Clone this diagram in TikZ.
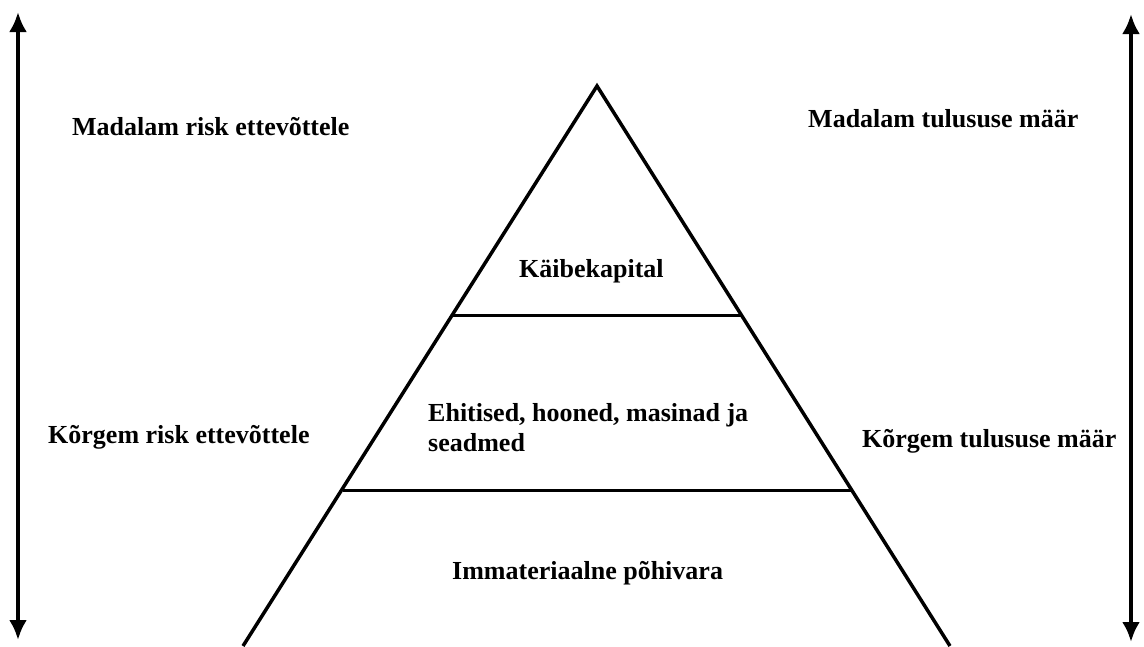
\documentclass[tikz,border=0pt]{standalone}
\usepackage{fontspec}
\setmainfont{Liberation Serif}
\usetikzlibrary{arrows.meta}
\begin{document}
\begin{tikzpicture}[x=1pt,y=-1pt,
    lbl/.style={font=\bfseries\fontsize{26}{30}\selectfont, anchor=base west, inner sep=0pt, align=left}]
\useasboundingbox (0,0) rectangle (1144,646);
% side arrows
\draw[<->, line width=4pt, >={Latex[length=20pt,width=18pt]}] (18,12)--(18,640);
\draw[<->, line width=4pt, >={Latex[length=20pt,width=18pt]}] (1131,14)--(1131,642);
% pyramid
\coordinate (top) at (597,86);
\coordinate (bl) at (243,646);\coordinate (br) at (950,646);
\draw[line width=3.5pt] (bl)--(top)--(br);
\draw[line width=3pt] (453,315)--(741,315);
\draw[line width=3pt] (343,490)--(851,490);
% labels
\node[lbl] (lowrisk) at (72,135) {Madalam risk ettevõttele};
\node[lbl] (lowret) at (808,127) {Madalam tulususe määr};
\node[lbl] (highrisk) at (48,443) {Kõrgem risk ettevõttele};
\node[lbl] (highret) at (862,447) {Kõrgem tulususe määr};
\node[lbl] (work) at (519,277) {Käibekapital};
\node[lbl] (build) at (428,451) {Ehitised, hooned, masinad ja\\seadmed};
\node[lbl] (intang) at (452,579) {Immateriaalne põhivara};
\end{tikzpicture}
\end{document}
